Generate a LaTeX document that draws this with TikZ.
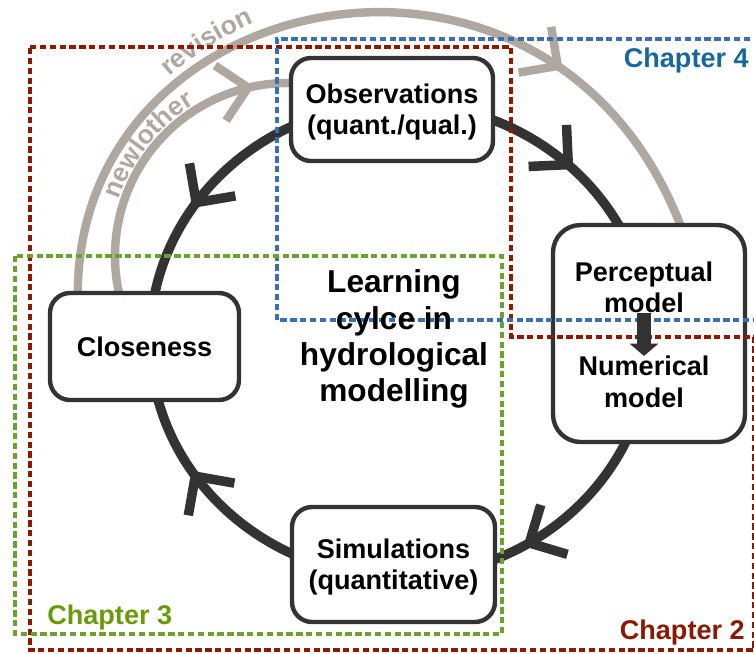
\documentclass[tikz,border=0pt]{standalone}
\usepackage{fontspec}
\setmainfont{Liberation Sans}
\usetikzlibrary{positioning,calc,arrows.meta,decorations.markings,decorations.text,backgrounds}

\definecolor{ringdark}{RGB}{51,51,51}
\definecolor{arcgray}{RGB}{174,168,161}
\definecolor{chtwodash}{RGB}{139,26,0}
\definecolor{chtwotext}{RGB}{136,26,4}
\definecolor{chthreedash}{RGB}{108,160,48}
\definecolor{chthreetext}{RGB}{104,154,10}
\definecolor{chfourdash}{RGB}{59,110,178}
\definecolor{chfourtext}{RGB}{26,104,154}

\tikzset{
  stage/.style={draw=ringdark, line width=2.5pt, rounded corners=0.4cm,
    fill=white, inner sep=0pt, align=center, text depth=0pt,
    font=\fontsize{15.4}{17.8}\selectfont\bfseries},
  modeltext/.style={inner sep=0pt, align=center,
    font=\fontsize{15.4}{17.8}\selectfont\bfseries},
  cyclering/.style={draw=ringdark, line width=5.4pt},
  grayarc/.style={draw=arcgray, line width=4.8pt},
  arclabel/.style={decorate, decoration={text along path, text align=center,
    text color=arcgray, text={|\fontsize{15}{17}\selectfont\bfseries|#1}}},
  chapdash/.style={line width=1.9pt, dash pattern=on 3.6pt off 2pt},
  chaplabel/.style={inner sep=0pt, font=\fontsize{15.4}{17.8}\selectfont\bfseries}
}

\begin{document}
\begin{tikzpicture}[x=0.02cm, y=-0.02cm]
  \useasboundingbox (0,0) rectangle (754,653);

  % stages of the cycle
  \node[stage, minimum width=4.04cm, minimum height=2.06cm] (obs) at (392,109.5)
    {Observations\\(quant./qual.)};
  \node[stage, minimum width=3.84cm, minimum height=4.34cm,
    rounded corners=0.55cm] (percbox) at (649,333.5) {};
  \node[stage, minimum width=4.06cm, minimum height=2.3cm] (sim) at (393.5,564.5)
    {Simulations\\(quantitative)};
  \node[stage, minimum width=3.78cm, minimum height=2.14cm] (clos) at (144.5,346.5)
    {Closeness};

  % ring and revision arcs behind the boxes
  \begin{scope}[on background layer]
    \coordinate (ringc) at (400,340);
    \coordinate (ringstart) at ($(ringc)+(250,0)$);
    \draw[cyclering, postaction={decorate}, decoration={markings,
      mark=at position 0.166 with {\arrow{Straight Barb[length=16pt,width=32pt,sharp]}},
      mark=at position 0.409 with {\arrow{Straight Barb[length=16pt,width=32pt,sharp]}},
      mark=at position 0.592 with {\arrowreversed{Straight Barb[length=16pt,width=32pt,sharp]}},
      mark=at position 0.874 with {\arrow{Straight Barb[length=16pt,width=32pt,sharp]}}}]
      (ringstart) arc[start angle=0, end angle=360, x radius=250, y radius=237];

    % new/other data: closeness back to observations
    \coordinate (newc) at (288,256);
    \coordinate (newstart) at ($(newc)+(166:173)$);
    \draw[grayarc, postaction={decorate}, decoration={markings,
      mark=at position 0.85 with {\arrow{Straight Barb[length=16pt,width=32pt,sharp]}}}]
      (newstart) arc[start angle=166, end angle=275, radius=173];

    % revision: closeness back to the perceptual model
    \draw[grayarc, postaction={decorate}, decoration={markings,
      mark=at position 0.76 with {\arrow{Straight Barb[length=16pt,width=32pt,sharp]}}}]
      ($(clos.north west)+(30,8)$) .. controls +(-5,-320) and +(-126,-350)
      .. ($(percbox.north)+(35,12)$);
  \end{scope}

  % arc labels
  \coordinate (revc) at (390,330);
  \path[arclabel=revision] ($(revc)+(215:336)$) arc[start angle=215, end angle=260, radius=336];
  \path[arclabel=newlother] ($(newc)+(190:178)$) arc[start angle=190, end angle=247, radius=178];

  % chapters
  \draw[chapdash, draw=chtwodash] (30,47) -- (511,47) -- (511,337) -- (754,337)
    -- (754,650) -- (30,650) -- cycle;
  \draw[chapdash, draw=chfourdash] (760,39) -- (277,39) -- (277,320) -- (760,320);
  \draw[chapdash, draw=chthreedash] (15,256) rectangle (502,634);

  % perceptual to numerical model
  \node[modeltext] (perc) at (644,287) {Perceptual\\model};
  \node[modeltext, below=24.5pt of perc] (num) {Numerical\\model};
  \draw[ringdark, line width=8.5pt, -{Triangle[length=7pt,width=16pt]}]
    (perc.south) -- (num.north);

  \node[align=center, inner sep=0pt,
    font=\fontsize{18}{20.6}\selectfont\bfseries] (title) at (394,339)
    {Learning\\cylce in\\hydrological\\modelling};

  \node[chaplabel, text=chfourtext, anchor=east] (chfour) at (749,60) {Chapter 4};
  \node[chaplabel, text=chthreetext, anchor=west] (chthree) at (47,617) {Chapter 3};
  \node[chaplabel, text=chtwotext, anchor=east] (chtwo) at (745,632) {Chapter 2};
\end{tikzpicture}
\end{document}
